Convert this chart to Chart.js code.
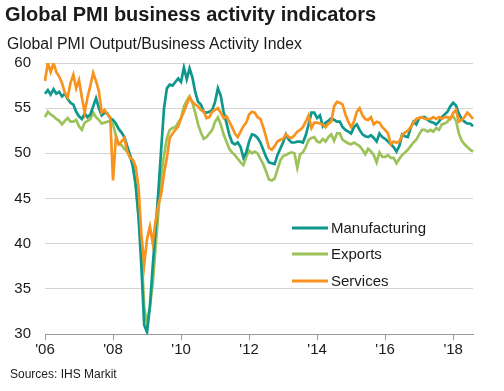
<!DOCTYPE html>
<html>
<head>
<meta charset="utf-8">
<script src="https://cdn.jsdelivr.net/npm/chart.js@4.4.1/dist/chart.umd.min.js"></script>
<style>
  body { margin: 0; background: #fff; }
  #wrap { position: relative; width: 504px; height: 391px; font-family: "Liberation Sans", Arial, sans-serif; color: #1a1a1a; }
  #chartId { position: absolute; left: 0; top: 0; }
  .title { position: absolute; left: 5px; top: 3px; font-size: 20px; font-weight: bold; white-space: nowrap; }
  .sub { position: absolute; left: 7px; top: 35px; font-size: 15.8px; white-space: nowrap; }
  .src { position: absolute; left: 10px; top: 367px; font-size: 12px; white-space: nowrap; }
</style>
</head>
<body>
<div id="wrap">
  <canvas id="chartId" width="504" height="391"></canvas>
  <div class="title">Global PMI business activity indicators</div>
  <div class="sub">Global PMI Output/Business Activity Index</div>
  <div class="src">Sources: IHS Markit</div>
</div>
<script>
// monthly, Jan 2006 .. Aug 2018
const firstYear = 2006;
const seriesNames = ['Manufacturing', 'Exports', 'Services'];
const seriesColors = ['#0e978c', '#9cc25a', '#f7931e'];

const manufacturing = [
    56.6, 57.0, 56.5, 57.1, 56.6, 56.8, 56.3, 56.6, 56.0, 55.6, 55.4, 54.6,
    54.1, 53.8, 54.4, 54.0, 54.3, 55.2, 56.1, 55.0, 54.2, 54.5, 54.4, 53.9,
    53.7, 53.3, 52.7, 52.3, 51.8, 50.8, 49.8, 48.5, 46.5, 43.0, 37.5, 31.0,
    30.2, 33.0, 37.5, 41.5, 45.8, 50.5, 55.0, 57.2, 57.6, 57.5, 57.9, 58.3,
    57.9, 59.5, 58.2, 59.4, 58.4, 56.8, 55.7, 55.4, 54.6, 54.5, 54.6, 54.8,
    55.7, 57.2, 56.4, 54.6, 53.4, 52.1, 51.2, 51.0, 51.2, 50.7, 49.5, 50.1,
    51.3, 52.1, 52.0, 51.7, 51.2, 50.4, 49.6, 49.0, 48.9, 48.8, 49.8, 50.5,
    51.2, 52.1, 51.5, 51.2, 51.2, 51.3, 51.3, 51.2, 52.0, 53.2, 54.5, 54.5,
    53.9, 54.2, 53.0, 53.4, 53.6, 53.9, 53.7, 53.5, 53.5, 52.9, 52.6, 52.4,
    52.2, 52.9, 53.2, 52.6, 52.1, 51.9, 51.8, 52.0, 51.7, 51.3, 52.2, 51.8,
    51.6, 51.3, 51.0, 50.7, 50.2, 50.8, 52.1, 51.9, 51.8, 52.8, 53.5, 53.2,
    53.9, 54.0, 54.0, 53.7, 53.5, 53.4, 53.2, 53.5, 54.0, 54.3, 54.6, 55.2,
    55.6, 55.3, 54.4, 53.8, 53.5, 53.3, 53.3, 53.0
];
const exports = [
    54.0, 54.6, 54.3, 54.1, 53.8, 53.6, 53.2, 53.6, 53.9, 53.5, 53.5, 53.7,
    53.0, 52.6, 53.4, 53.6, 53.8, 54.5, 54.0, 53.7, 53.3, 53.4, 53.5, 53.6,
    53.2, 52.0, 51.0, 50.9, 50.5, 50.2, 49.8, 49.0, 46.5, 43.0, 39.5, 33.0,
    31.2, 33.0, 35.5, 39.5, 43.5, 47.6, 49.8, 51.7, 52.6, 52.8, 52.9, 53.4,
    53.9, 55.2, 55.8, 56.3, 55.6, 54.5, 53.2, 52.3, 51.6, 51.8, 52.2, 52.6,
    53.5, 54.0, 53.2, 52.1, 51.3, 50.5, 50.1, 49.8, 49.4, 49.0, 48.7, 49.6,
    50.3, 50.0, 50.2, 50.0, 49.4, 48.8, 48.0, 47.1, 47.0, 47.2, 48.2, 49.2,
    49.7, 49.8, 50.0, 50.1, 50.0, 48.4, 49.9, 50.1, 50.7, 51.5, 51.7, 51.8,
    51.3, 51.2, 51.6, 51.3, 51.8, 52.1, 51.4, 52.2, 52.2, 51.5, 51.3, 51.1,
    51.0, 51.2, 51.0, 50.8, 50.4, 49.9, 50.5, 50.2, 49.8, 49.0, 50.1, 49.6,
    49.6, 49.8, 49.5, 49.5, 48.9, 49.4, 49.8, 50.1, 50.4, 50.8, 51.2, 51.5,
    52.1, 52.6, 52.6, 52.4, 52.6, 52.4, 52.8, 52.6, 53.2, 53.3, 53.5, 54.0,
    54.1, 53.6, 52.2, 51.4, 51.0, 50.7, 50.4, 50.2
];
const services = [
    58.0, 60.0, 59.0, 60.0, 59.0, 58.5, 57.8, 56.7, 56.2, 57.8, 58.7, 57.2,
    58.1, 56.2, 54.5, 56.2, 57.5, 58.9, 58.0, 56.9, 54.5, 54.8, 54.3, 54.0,
    47.0, 51.7, 51.0, 51.3, 51.7, 50.2, 49.5, 49.3, 48.5, 46.2, 41.0, 37.7,
    40.5, 41.9, 40.1, 42.5, 44.3, 45.5, 47.8, 49.5, 51.7, 52.2, 52.6, 53.0,
    53.9, 54.6, 55.4, 56.2, 55.7, 55.4, 55.2, 54.8, 54.6, 53.9, 54.0, 54.6,
    54.8, 55.0, 54.5, 53.9, 54.1, 53.5, 52.9, 52.2, 51.8, 52.4, 53.0, 53.4,
    54.3, 54.6, 54.5, 54.0, 53.8, 52.9, 51.8, 50.6, 50.4, 50.8, 51.3, 51.5,
    51.6, 52.1, 51.8, 51.7, 52.0, 52.4, 52.6, 52.9, 53.5, 54.2, 52.8, 53.4,
    53.4, 53.3, 53.2, 52.9, 53.3, 53.5, 55.2, 55.7, 55.6, 55.4, 54.3, 53.5,
    52.9, 53.5, 54.6, 55.0, 54.2, 53.8, 53.7, 54.0, 53.2, 53.5, 53.4, 52.9,
    52.6, 52.2, 51.0, 51.3, 51.2, 51.3, 52.0, 52.3, 52.5, 52.9, 53.4, 53.8,
    53.9, 54.0, 53.8, 53.8, 53.8, 54.0, 53.8, 54.0, 53.8, 54.0, 54.0, 53.8,
    54.5, 54.8, 53.5, 53.7, 54.0, 54.5, 54.2, 53.8
];
const yearTickLabels = ["'06", "'08", "'10", "'12", "'14", "'16", "'18"];
const yTicks = [30, 35, 40, 45, 50, 55, 60];

// month labels for the category axis
var months = [];
for (let i = 0; i < manufacturing.length; i++) {
    const y = firstYear + Math.floor(i / 12);
    months.push((i % 12 + 1) + '/' + y);
}

const fontFam = '"Liberation Sans", Arial, sans-serif';

// legend drawn inside the plot, right side
const insideLegend = {
    id: 'insideLegend',
    afterDraw(chart) {
        const ctx = chart.ctx;
        const rows = [228, 254, 281];
        ctx.save();
        ctx.font = '15px ' + fontFam;
        ctx.textBaseline = 'middle';
        seriesNames.forEach((name, i) => {
            ctx.strokeStyle = seriesColors[i];
            ctx.lineWidth = 3;
            ctx.beginPath();
            ctx.moveTo(292, rows[i]);
            ctx.lineTo(328, rows[i]);
            ctx.stroke();
            ctx.fillStyle = '#1a1a1a';
            ctx.fillText(name, 331, rows[i] + 1);
        });
        ctx.restore();
    }
};

// services on top, exports underneath
const drawOrder = [1, 2, 0];

var chrt = document.getElementById('chartId').getContext('2d');
var chartId = new Chart(chrt, {
    type: 'line',
    data: {
        labels: months,
        datasets: [manufacturing, exports, services].map((vals, i) => ({
            label: seriesNames[i],
            data: vals,
            borderColor: seriesColors[i],
            borderWidth: 2.7,
            pointRadius: 0,
            tension: 0,
            fill: false,
            order: drawOrder[i]
        }))
    },
    options: {
        responsive: false,
        animation: false,
        layout: { padding: { left: 0, right: 31, top: 63, bottom: 0 } },
        plugins: { legend: { display: false }, title: { display: false }, tooltip: { enabled: false } },
        scales: {
            x: {
                type: 'category',
                offset: false,
                afterFit(axis) { axis.height = 57; },
                grid: {
                    drawOnChartArea: false,
                    tickLength: 6,
                    color: '#999999'
                },
                border: { color: '#999999', width: 1 },
                ticks: {
                    autoSkip: false,
                    maxRotation: 0,
                    padding: 1,
                    color: '#1a1a1a',
                    font: { family: fontFam, size: 15 },
                    callback: function (val, idx) {
                        if (idx % 24 !== 0) return null;
                        return yearTickLabels[idx / 24];
                    }
                }
            },
            y: {
                min: 30,
                max: 60,
                afterFit(axis) { axis.width = 45; },
                afterBuildTicks(axis) { axis.ticks = yTicks.map(v => ({ value: v })); },
                grid: { color: '#d4d4d4', lineWidth: 1, drawTicks: false },
                border: { display: false },
                ticks: {
                    padding: 14,
                    color: '#1a1a1a',
                    font: { family: fontFam, size: 15 }
                }
            }
        }
    },
    plugins: [insideLegend]
});
</script>
</body>
</html>
